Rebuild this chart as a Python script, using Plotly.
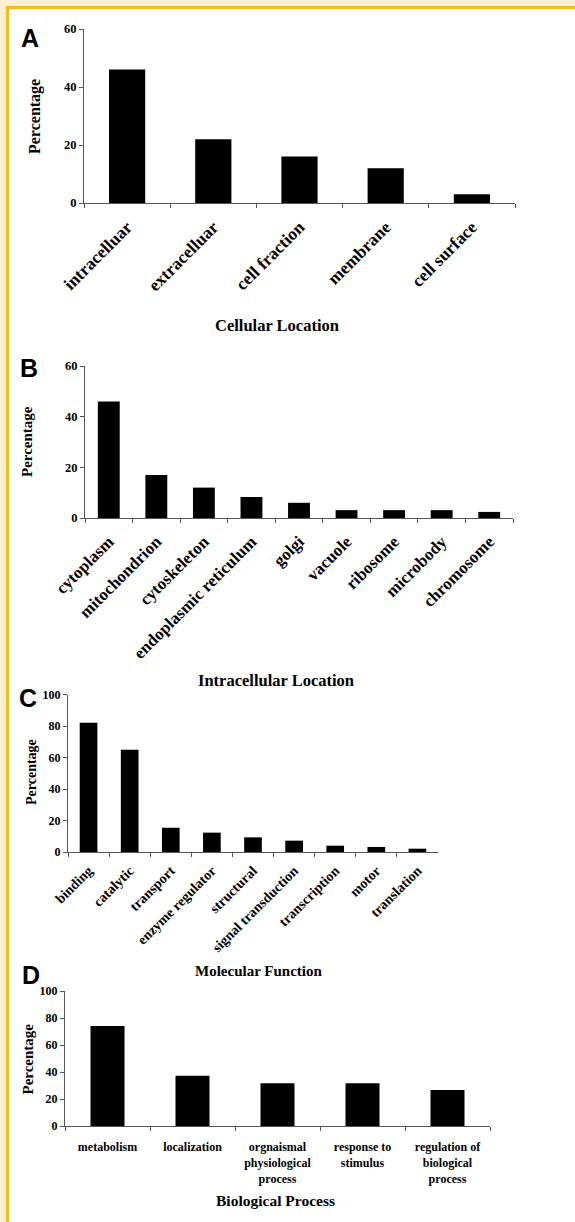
import plotly.graph_objects as go

W, H = 575, 1222

# ---------------- data ----------------
cellular_labels = ["intracelluar", "extracelluar", "cell fraction", "membrane", "cell surface"]
cellular_values = [46, 22, 16, 12, 3]

intracellular_labels = ["cytoplasm", "mitochondrion", "cytoskeleton", "endoplasmic reticulum",
                        "golgi", "vacuole", "ribosome", "microbody", "chromosome"]
intracellular_values = [46, 17, 12, 8.3, 6, 3.1, 3.1, 3.1, 2.4]

molecular_labels = ["binding", "catalytic", "transport", "enzyme regulator", "structural",
                    "signal transduction", "transcription", "motor", "translation"]
molecular_values = [82, 65, 15.4, 12.3, 9.3, 7.2, 4, 3.2, 2.1]

biological_labels = ["metabolism", "localization", "orgnaismal<br>physiological<br>process",
                     "response to<br>stimulus", "regulation of<br>biological<br>process"]
biological_values = [74, 37.3, 31.6, 31.6, 26.7]

panel_letters = ["A", "B", "C", "D"]
x_titles = ["Cellular Location", "Intracellular Location", "Molecular Function", "Biological Process"]
y_title = "Percentage"
y_ranges = [[0, 60], [0, 60], [0, 100], [0, 100]]
y_dticks = [20, 20, 20, 20]


def px(x):
    return x / W


def py(y):
    return 1 - y / H


SERIF = "Liberation Serif"
SANS = "Liberation Sans"
AXC = "#555555"

# layout geometry (pixels): x0, x1, ytop, ybottom
geo = [
    (84, 515, 29, 203),
    (85, 513, 366, 518),
    (68, 438, 694.5, 852),
    (65, 490, 991, 1126),
]
bar_w = [0.42, 0.46, 0.43, 0.40]
tick_font = [17.5, 17, 14, 12]
tick_angle = [-45, -45, -45, 0]
tick_standoff = [6, 6, 4, 10]
ytick_font = [12.5, 12.5, 12, 12]

datasets = [
    (cellular_labels, cellular_values),
    (intracellular_labels, intracellular_values),
    (molecular_labels, molecular_values),
    (biological_labels, biological_values),
]

fig = go.Figure()
layout = dict(
    template="none",
    width=W, height=H, margin=dict(l=0, r=0, t=0, b=0, pad=0, autoexpand=False),
    paper_bgcolor="white", plot_bgcolor="white", showlegend=False,
)

for i, ((labels, values), (x0, x1, yt, yb)) in enumerate(zip(datasets, geo)):
    n = i + 1
    xa = "x" if n == 1 else f"x{n}"
    ya = "y" if n == 1 else f"y{n}"
    fig.add_trace(go.Bar(x=labels, y=values, xaxis=xa, yaxis=ya,
                         marker=dict(color="black", line=dict(width=0)),
                         width=bar_w[i], hoverinfo="x+y"))
    layout[f"xaxis{'' if n == 1 else n}"] = dict(
        domain=[px(x0), px(x1)], anchor=ya, type="category", automargin=False,
        range=[-0.5, len(labels) - 0.5],
        showline=True, linecolor=AXC, linewidth=1,
        ticks="outside", tickson="boundaries", ticklen=4, tickcolor=AXC, tickwidth=1,
        tickangle=tick_angle[i], ticklabelstandoff=tick_standoff[i],
        showgrid=False, zeroline=False,
        tickfont=dict(family=SERIF, size=tick_font[i], color="black", weight="bold"),
        fixedrange=True,
    )
    layout[f"yaxis{'' if n == 1 else n}"] = dict(
        domain=[py(yb), py(yt)], anchor=xa, range=y_ranges[i], dtick=y_dticks[i],
        automargin=False,
        showline=True, linecolor=AXC, linewidth=1,
        ticks="outside", ticklen=4, tickcolor=AXC, tickwidth=1,
        showgrid=False, zeroline=False,
        tickfont=dict(family=SERIF, size=ytick_font[i], color="black", weight="bold"),
        fixedrange=True,
    )

annotations = []
letter_pos = [(30, 38), (28.5, 367.5), (28, 698), (31, 975)]
ytitle_pos = [(35, 117, 16), (27, 441, 15), (31, 772, 14), (27.5, 1059, 15)]
xtitle_pos = [(277, 325, 16.5), (276, 680, 16.5), (258, 971, 15), (275, 1200, 15.5)]
for i in range(4):
    lx, ly = letter_pos[i]
    annotations.append(dict(text=panel_letters[i], x=px(lx), y=py(ly), xref="paper", yref="paper",
                            showarrow=False, xanchor="center", yanchor="middle",
                            font=dict(family=SANS, size=25, color="black", weight="bold")))
    tx, ty, ts = ytitle_pos[i]
    annotations.append(dict(text=y_title, x=px(tx), y=py(ty), xref="paper", yref="paper",
                            showarrow=False, textangle=-90, xanchor="center", yanchor="middle",
                            font=dict(family=SERIF, size=ts, color="black", weight="bold")))
    tx, ty, ts = xtitle_pos[i]
    annotations.append(dict(text=x_titles[i], x=px(tx), y=py(ty), xref="paper", yref="paper",
                            showarrow=False, xanchor="center", yanchor="middle",
                            font=dict(family=SERIF, size=ts, color="black", weight="bold")))
layout["annotations"] = annotations

# decorative page border (cream strip + yellow rule, top and left)
CREAM = "#FDF0D3"
YEL = "#F4BD1D"
layout["shapes"] = [
    dict(type="rect", xref="paper", yref="paper", x0=0, x1=1, y0=py(6), y1=1,
         fillcolor=CREAM, line=dict(width=0), layer="below"),
    dict(type="rect", xref="paper", yref="paper", x0=0, x1=px(6), y0=0, y1=1,
         fillcolor=CREAM, line=dict(width=0), layer="below"),
    dict(type="rect", xref="paper", yref="paper", x0=px(6), x1=1, y0=py(9), y1=py(6),
         fillcolor=YEL, line=dict(width=0), layer="below"),
    dict(type="rect", xref="paper", yref="paper", x0=px(6), x1=px(9), y0=0, y1=py(6),
         fillcolor=YEL, line=dict(width=0), layer="below"),
]

fig.update_layout(**layout)
fig.write_html("out.html", config={"displayModeBar": False},
               post_script="document.body.style.margin='0';document.body.style.overflow='hidden';")
